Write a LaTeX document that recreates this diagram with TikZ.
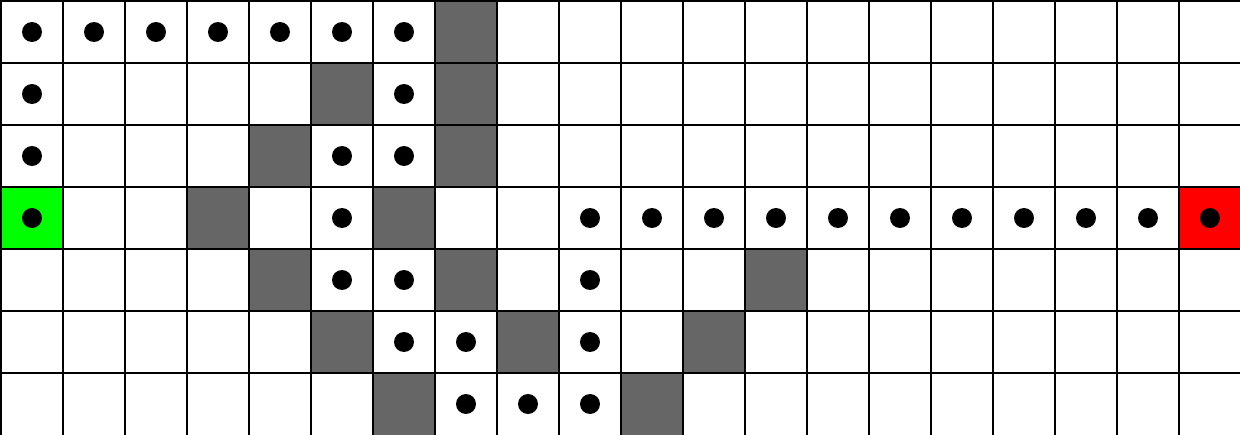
\documentclass[tikz,border=0pt]{standalone}
\definecolor{wallgray}{HTML}{666666}
\definecolor{startgreen}{HTML}{00FF00}
\definecolor{goalred}{HTML}{FF0000}
\tikzset{
  wall/.style={fill=wallgray},
  startcell/.style={fill=startgreen},
  goalcell/.style={fill=goalred},
  pathdot/.style={fill=black},
  gridline/.style={draw=black,line width=0.032cm}
}
\begin{document}
\begin{tikzpicture}
\useasboundingbox (0,0) rectangle (20,-7);
\fill[white] (0,0) rectangle (20,-7);
% cells (col,row) with row from top
\foreach \c/\r in {7/0,5/1,7/1,4/2,7/2,3/3,6/3,4/4,7/4,12/4,5/5,8/5,11/5,6/6,10/6}
  \path[wall] (\c+0.016,-\r-0.016) rectangle (\c+1.016,-\r-1.016);
\path[startcell] (0.016,-3.016) rectangle (1.016,-4.016);
\path[goalcell] (19.016,-3.016) rectangle (20.016,-4.016);
% grid
\foreach \k in {0,...,19}
  \draw[gridline] (\k+0.016,0.1) -- (\k+0.016,-7.1);
\foreach \k in {0,...,6}
  \draw[gridline] (-0.1,-\k-0.016) -- (20.1,-\k-0.016);
% path dots
\foreach \c/\r in {0/3,0/2,0/1,0/0,1/0,2/0,3/0,4/0,5/0,6/0,6/1,6/2,5/2,5/3,5/4,6/4,6/5,7/5,7/6,8/6,9/6,9/5,9/4,9/3,10/3,11/3,12/3,13/3,14/3,15/3,16/3,17/3,18/3,19/3}
  \path[pathdot] (\c+0.516,-\r-0.516) circle (0.161);
\end{tikzpicture}
\end{document}
